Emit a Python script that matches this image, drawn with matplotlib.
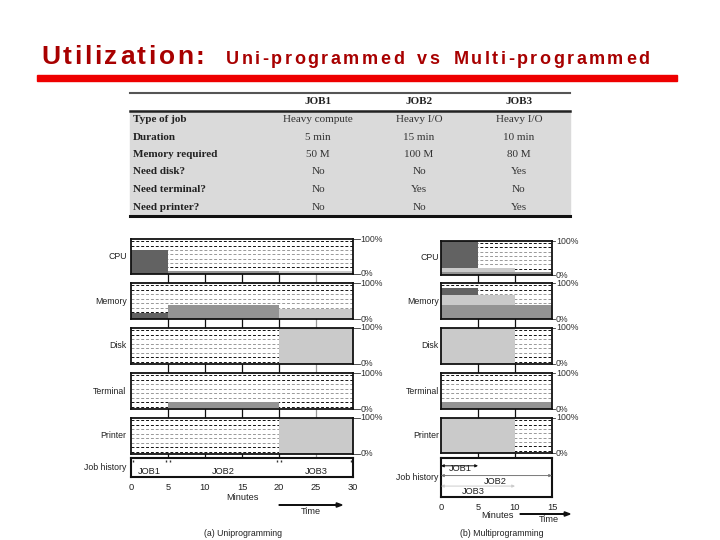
import numpy as np
import matplotlib
matplotlib.use('Agg')
import matplotlib.pyplot as plt
from matplotlib.lines import Line2D
from matplotlib.patches import Rectangle, FancyArrow

W, H = 720, 540

# ---- data ----
jobs = ['JOB1', 'JOB2', 'JOB3']
row_labels = ['Type of job', 'Duration', 'Memory required', 'Need disk?',
              'Need terminal?', 'Need printer?']
job1_col = ['Heavy compute', '5 min', '50 M', 'No', 'No', 'No']
job2_col = ['Heavy I/O', '15 min', '100 M', 'No', 'Yes', 'No']
job3_col = ['Heavy I/O', '10 min', '80 M', 'Yes', 'No', 'Yes']

resources = ['CPU', 'Memory', 'Disk', 'Terminal', 'Printer']

# uniprogramming: (start, end) of each job, and % use of each resource
uni_start = [0, 5, 20]
uni_end = [5, 20, 30]
uni_cpu = [70, 10, 10]
uni_mem = [18, 40, 28]
uni_disk = [0, 0, 100]
uni_term = [0, 18, 0]
uni_prn = [0, 0, 100]

# multiprogramming (stacked: JOB2 bottom, JOB3, JOB1 top)
multi_start = [0, 0, 0]
multi_end = [5, 15, 10]
multi_cpu = [80, 10, 10]
multi_mem = [18, 40, 28]
multi_disk = [0, 0, 100]
multi_term = [0, 20, 0]
multi_prn = [0, 0, 100]

job_colors = ['#626262', '#949494', '#cacaca']


def fx(x):
    return x / W


def fy(y):
    return 1 - y / H


def box(x0, x1, y0, y1):
    return [fx(x0), fy(y1), fx(x1) - fx(x0), fy(y0) - fy(y1)]


fig = plt.figure(figsize=(7.2, 5.4), dpi=100)
plt.rcParams['font.family'] = ['Liberation Sans', 'DejaVu Sans']
renderer = fig.canvas.get_renderer()


def spaced_text(x, y, s, track, space_w, **kw):
    # draw a string letter by letter with extra spacing (pixels)
    for ch in s:
        if ch == ' ':
            x += space_w
            continue
        t = fig.text(fx(x), fy(y), ch, va='center', ha='left', **kw)
        x += t.get_window_extent(renderer).width + track
    return x


# ---- title ----
title_kw = dict(fontsize=19, fontweight='bold', color='#a80000')
spaced_text(41, 57, 'Utilization:', 2.6, 6, **title_kw)
sub_kw = dict(fontsize=13, fontweight='bold', color='#a80000')
spaced_text(226, 60, 'Uni-programmed  vs  Multi-programmed', 2.5, 5.5, **sub_kw)
fig.patches.append(Rectangle((fx(37), fy(81)), fx(677) - fx(37), fy(75) - fy(81),
                             transform=fig.transFigure, color='#ee0000'))

# ---- table ----
tx0, tx1 = 130, 570
fig.patches.append(Rectangle((fx(tx0), fy(216)), fx(tx1) - fx(tx0), fy(111) - fy(216),
                             transform=fig.transFigure, color='#dadada'))
fig.lines.append(Line2D([fx(tx0), fx(tx1)], [fy(93), fy(93)], transform=fig.transFigure,
                        color='#555555', lw=1.5))
fig.lines.append(Line2D([fx(tx0), fx(tx1)], [fy(111), fy(111)], transform=fig.transFigure,
                        color='#222222', lw=1.8))
fig.lines.append(Line2D([fx(tx0), fx(tx1)], [fy(216), fy(216)], transform=fig.transFigure,
                        color='#111111', lw=2.2))
col_x = [318, 419, 519]
row_y = [120, 138, 155, 172, 189, 207]
serif = ['Liberation Serif', 'DejaVu Serif']
tab_fs = 8
for j, name in enumerate(jobs):
    fig.text(fx(col_x[j]), fy(101), name, ha='center', va='center', fontsize=tab_fs,
             fontweight='bold', family=serif, color='#222222')
cols = [job1_col, job2_col, job3_col]
for i, lab in enumerate(row_labels):
    fig.text(fx(133), fy(row_y[i]), lab, ha='left', va='center', fontsize=tab_fs,
             fontweight='bold', family=serif, color='#222222')
    for j in range(3):
        fig.text(fx(col_x[j]), fy(row_y[i]), cols[j][i], ha='center', va='center',
                 fontsize=tab_fs, family=serif, color='#333333')

# ---- utilization panels ----
lab_fs = 6.3
grid_y = [6.25 + 12.5 * k for k in range(8)]
grid_c = ['#111111', '#111111', '#999999', '#999999', '#999999', '#999999', '#111111', '#111111']


def panels(x0, x1, rows, xmax, ticks, starts, ends, data, stacked, vline_c):
    # background with the vertical lines that show in the gaps
    bg = fig.add_axes(box(x0, x1, rows[0][0], rows[-1][1]))
    bg.set_xlim(0, xmax)
    for t, c in zip(ticks[1:-1], vline_c):
        bg.axvline(t, color=c, lw=0.9)
    bg.axis('off')
    for r, (y0, y1) in enumerate(rows[:-1]):
        ax = fig.add_axes(box(x0, x1, y0, y1))
        ax.set_facecolor('white')
        ax.set_xlim(0, xmax)
        ax.set_ylim(0, 100)
        for g, c in zip(grid_y, grid_c):
            ax.axhline(g, color=c, lw=0.7, ls=(0, (3, 2)), zorder=1)
        vals = data[r]
        if stacked:
            bottom = 0
            for j in [1, 2, 0]:
                if vals[j] > 0:
                    ax.bar(starts[j], vals[j], ends[j] - starts[j], bottom=bottom,
                           align='edge', color=job_colors[j], zorder=2, lw=0)
                    bottom += vals[j]
        else:
            for j in range(3):
                if vals[j] > 0:
                    b = 2 if resources[r] == 'Terminal' else 0
                    ax.bar(starts[j], vals[j], ends[j] - starts[j], bottom=b,
                           align='edge', color=job_colors[j], zorder=2, lw=0)
        ax.set_xticks([])
        ax.set_yticks([])
        for s in ax.spines.values():
            s.set_linewidth(1.3)
            s.set_color('#111111')
        ax.text(-0.02, 0.5, resources[r], transform=ax.transAxes, ha='right', va='center',
                fontsize=lab_fs, color='#222222')
        for yy, txt in [(1, '100%'), (0, '0%')]:
            ax.plot([1, 1.03], [yy, yy], transform=ax.transAxes, color='#333333', lw=0.6,
                    clip_on=False)
            ax.text(1.035, yy, txt, transform=ax.transAxes, ha='left', va='center',
                    fontsize=lab_fs, color='#333333')
    y0, y1 = rows[-1]
    jh = fig.add_axes(box(x0, x1, y0, y1))
    jh.set_facecolor('white')
    jh.set_xlim(0, xmax)
    jh.set_ylim(0, 1)
    jh.set_yticks([])
    jh.set_xticks(ticks)
    jh.set_xticklabels([str(t) for t in ticks], fontsize=lab_fs + 0.4, color='#222222')
    jh.tick_params(length=0, pad=4)
    for s in jh.spines.values():
        s.set_linewidth(1.5)
        s.set_color('#111111')
    jh.text(-0.02, 0.5, 'Job history', transform=jh.transAxes, ha='right', va='center',
            fontsize=lab_fs, color='#222222')
    return jh


# uniprogramming
uni_rows = [(239, 274), (283, 319), (328, 364), (373, 409), (418, 454), (458, 477)]
uni_ticks = [0, 5, 10, 15, 20, 25, 30]
uni_data = [uni_cpu, uni_mem, uni_disk, uni_term, uni_prn]
jh = panels(131, 353, uni_rows, 30, uni_ticks, uni_start, uni_end, uni_data, False,
            ['#111111', '#111111', '#111111', '#111111', '#999999'])
for j in range(3):
    jh.text((uni_start[j] + uni_end[j]) / 2, 0.3, jobs[j], ha='center', va='center',
            fontsize=lab_fs + 0.4, color='#222222')
    jh.plot([uni_start[j] + 0.3, uni_end[j] - 0.3], [0.85, 0.85], ls='none',
            marker='|', ms=2, color='#333333')
fig.text(fx(242), fy(497), 'Minutes', ha='center', va='center', fontsize=lab_fs + 0.4,
         color='#222222')
fig.patches.append(FancyArrow(fx(279), fy(505), fx(342) - fx(279), 0,
                   width=0.0008, head_width=0.008, head_length=0.008, length_includes_head=True,
                   transform=fig.transFigure, color='#111111'))
fig.text(fx(311), fy(511), 'Time', ha='center', va='center', fontsize=lab_fs + 0.4,
         color='#222222')
fig.text(fx(243), fy(533), '(a) Uniprogramming', ha='center', va='center',
         fontsize=lab_fs, color='#222222')

# multiprogramming
multi_rows = [(241, 275), (283, 319), (328, 364), (373, 409), (418, 453), (458, 497)]
multi_ticks = [0, 5, 10, 15]
multi_data = [multi_cpu, multi_mem, multi_disk, multi_term, multi_prn]
jh2 = panels(441, 552, multi_rows, 15, multi_ticks, multi_start, multi_end, multi_data,
             True, ['#111111', '#111111'])
arrow_y = [0.8, 0.55, 0.28]
arrow_c = ['#111111', '#777777', '#cccccc']
text_x = [2.6, 7.3, 4.3]
text_y = [0.72, 0.4, 0.14]
for j in range(3):
    jh2.annotate('', xy=(multi_end[j], arrow_y[j]), xytext=(multi_start[j], arrow_y[j]),
                 arrowprops=dict(arrowstyle='<|-|>', lw=0.7, color=arrow_c[j],
                                 mutation_scale=4, shrinkA=0, shrinkB=0))
    jh2.text(text_x[j], text_y[j], jobs[j], ha='center', va='center',
             fontsize=lab_fs + 0.4, color='#222222')
fig.text(fx(497), fy(516), 'Minutes', ha='center', va='center', fontsize=lab_fs + 0.4,
         color='#222222')
fig.patches.append(FancyArrow(fx(520), fy(514), fx(570) - fx(520), 0,
                   width=0.0008, head_width=0.008, head_length=0.008, length_includes_head=True,
                   transform=fig.transFigure, color='#111111'))
fig.text(fx(549), fy(519), 'Time', ha='center', va='center', fontsize=lab_fs + 0.4,
         color='#222222')
fig.text(fx(502), fy(533), '(b) Multiprogramming', ha='center', va='center',
         fontsize=lab_fs, color='#222222')

plt.savefig('out.png', dpi=100)
